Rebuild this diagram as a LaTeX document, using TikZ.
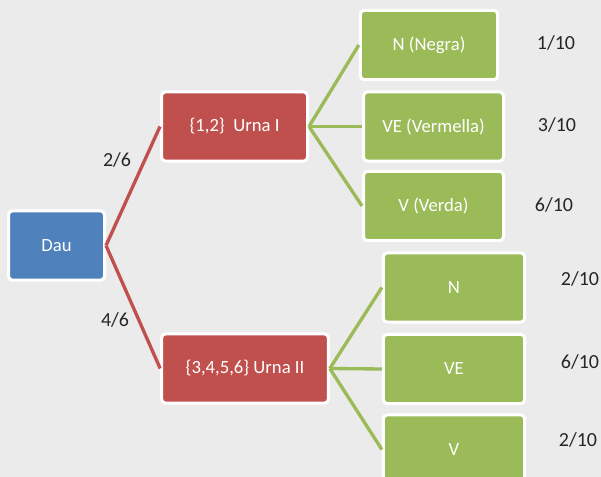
\documentclass[tikz,border=0pt]{standalone}
\usepackage{fontspec}
\setmainfont{Carlito}
\definecolor{TreeBackground}{HTML}{EBEBEB}
\definecolor{TreeBlue}{HTML}{4F81BD}
\definecolor{TreeRed}{HTML}{C0504D}
\definecolor{TreeGreen}{HTML}{9BBB59}
\definecolor{TreeText}{HTML}{262626}

\begin{document}
\begin{tikzpicture}[x=0.75pt, y=-0.75pt,
        box/.style={draw=white, line width=2.25pt, text=white, rounded corners=3pt,
                    minimum height=52pt, inner sep=0pt, align=center, font=\fontsize{14}{16}\selectfont},
        root/.style={box, fill=TreeBlue, minimum width=72pt},
        urn/.style={box, fill=TreeRed},
        ball/.style={box, fill=TreeGreen, minimum width=105pt},
        branch/.style={line width=2.5pt, TreeRed},
        twig/.style={line width=2.5pt, TreeGreen},
        prob/.style={text=TreeText, font=\fontsize{15}{18}\selectfont}
    ]
        \useasboundingbox (0,0) rectangle (601,477);
        \clip (0,0) rectangle (601,477);
        \fill[TreeBackground] (0,0) rectangle (601,477);

        \node[root] (dau) at (56.5,245.5) {Dau};
        \node[urn, minimum width=109.5pt] (u1) at (234.5,126.5) {\{1,2\}\ \ Urna I};
        \node[urn, minimum width=125pt] (u2) at (245,368.5) {\{3,4,5,6\} Urna II};

        \node[ball, minimum width=103pt] (n1) at (429,45) {N (Negra)};
        \node[ball] (ve1) at (433.5,126.5) {VE (Vermella)};
        \node[ball] (v1) at (433.5,206) {V (Verda)};
        \node[ball, minimum width=106pt] (n2) at (454,287.5) {N};
        \node[ball, minimum width=106pt] (ve2) at (454,369) {VE};
        \node[ball, minimum width=106pt] (v2) at (454,449.5) {V};

        \draw[branch] (dau.east) -- (u1.west);
        \draw[branch] (dau.east) -- (u2.west);
        \draw[twig] (u1.east) -- (n1.west);
        \draw[twig] (u1.east) -- (ve1.west);
        \draw[twig] (u1.east) -- (v1.west);
        \draw[twig] (u2.east) -- (n2.west);
        \draw[twig] (u2.east) -- (ve2.west);
        \draw[twig] (u2.east) -- (v2.west);

        \node[prob] (p1) at (117,160) {2/6};
        \node[prob] (p2) at (115,320) {4/6};
        \node[prob] (p3) at (556,43) {1/10};
        \node[prob] (p4) at (557,125) {3/10};
        \node[prob] (p5) at (554,205) {6/10};
        \node[prob] (p6) at (580,279) {2/10};
        \node[prob] (p7) at (580,362) {6/10};
        \node[prob] (p8) at (578,440) {2/10};
    \end{tikzpicture}
\end{document}
